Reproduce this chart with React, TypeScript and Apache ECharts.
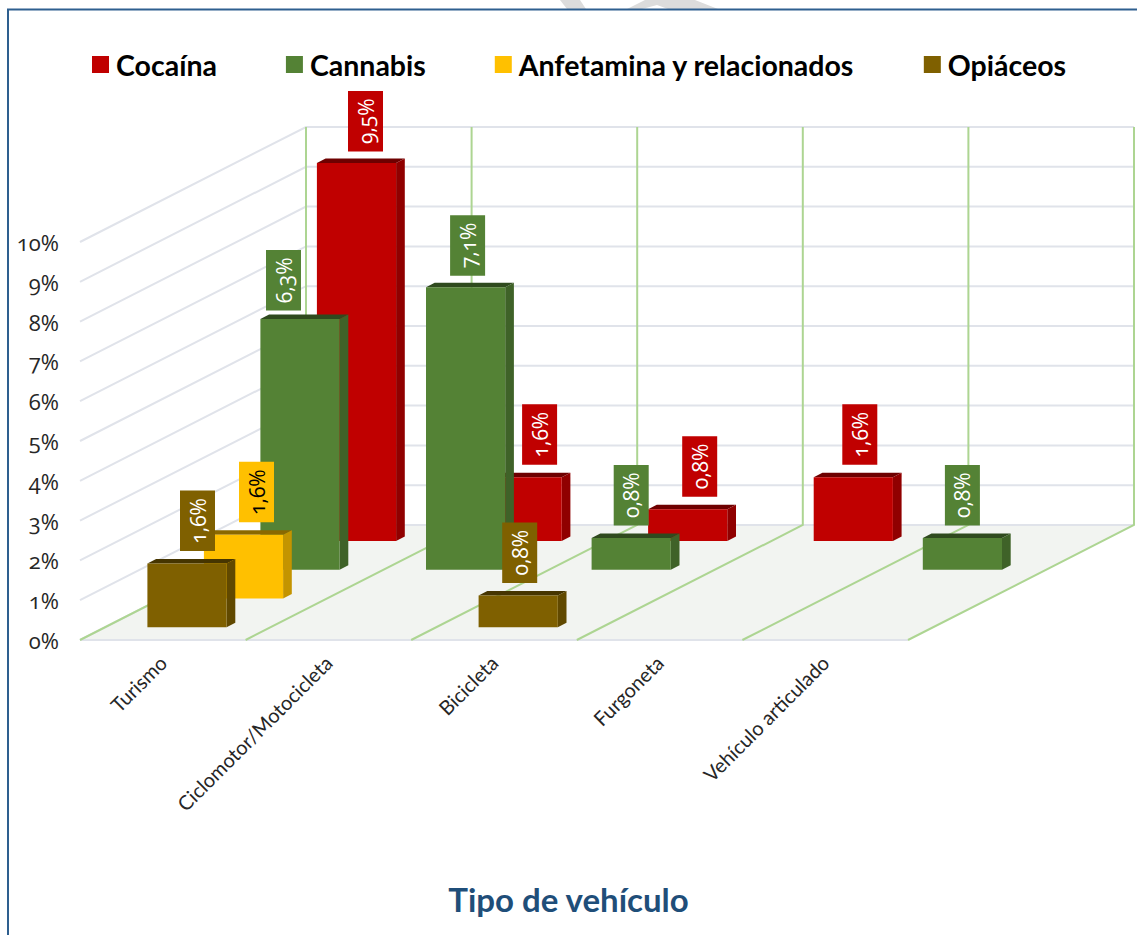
import React, { useEffect, useRef } from "react";
import * as echarts from "echarts";

const categories = ["Turismo", "Ciclomotor/Motocicleta", "Bicicleta", "Furgoneta", "Vehículo articulado"];
const yTicks = [0, 1, 2, 3, 4, 5, 6, 7, 8, 9, 10];

const seriesNames = ["Cocaína", "Cannabis", "Anfetamina y relacionados", "Opiáceos"];
const cocaina = [9.5, 1.6, 0.8, 1.6, null];
const cannabis = [6.3, 7.1, 0.8, null, 0.8];
const anfetamina = [1.6, null, null, null, null];
const opiaceos = [1.6, null, 0.8, null, null];
const seriesValues = [cocaina, cannabis, anfetamina, opiaceos];

// depth row of each series, 0 is the front row
const depthRows = [3, 2, 1, 0];

const frontColors = ["#c00000", "#548235", "#ffc000", "#7f6000"];
const topColors = ["#6e0000", "#2f4a1e", "#8a6800", "#463500"];
const sideColors = ["#900000", "#3f6228", "#c49400", "#614900"];
const labelTextColors = ["#ffffff", "#ffffff", "#000000", "#ffffff"];

// horizontal nudge of each data label from the centre of its bar
const labelNudgeCocaina = [9, 17.5, 12, 6.5, 0];
const labelNudgeCannabis = [-16.5, 2, 0, 0, 0];
const labelNudgeAnfetamina = [13, 0, 0, 0, 0];
const labelNudgeOpiaceos = [10.5, 0, 1.5, 0, 0];
const labelNudges = [labelNudgeCocaina, labelNudgeCannabis, labelNudgeAnfetamina, labelNudgeOpiaceos];

// vertical nudge of each data label
const labelLiftCocaina = [-1, 0, 0, 0, 0];
const labelLiftCannabis = [-4, -1, 0, 0, 0];
const labelLiftAnfetamina = [0, 0, 0, 0, 0];
const labelLiftOpiaceos = [0, 0, 0, 0, 0];
const labelLifts = [labelLiftCocaina, labelLiftCannabis, labelLiftAnfetamina, labelLiftOpiaceos];

const FONT = "Lato, 'Open Sans', sans-serif";
const NUM_FONT = "'Open Sans', Lato, sans-serif";
const DEPTH_X = 226;
const DEPTH_Y = -115;
const ROW_X = DEPTH_X / 4;
const ROW_Y = DEPTH_Y / 4;
const ROW_FRONT_X = 24.2;
const ROW_FRONT_Y = -12.7;
const BAR_W = 79.2;
const BAR_DX = 8.7;
const BAR_DY = -4.5;
const LABEL_W = 35;
const LABEL_H = 60.5;
const LABEL_H_NARROW = 58;
const LABEL_GAP = 12.5;

const formatValue = (v: number) => `${String(v).replace(".", ",")}%`;

function renderBack(_params: any, api: any) {
  const size = api.size([1, 0])[0];
  const x0 = api.coord([0, 0])[0] - size / 2;
  const x1 = x0 + size * categories.length;
  const yAt = (v: number) => api.coord([0, v])[1];
  const y0 = yAt(0);
  const children: any[] = [
    {
      type: "polygon",
      shape: {
        points: [
          [x0, y0],
          [x1, y0],
          [x1 + DEPTH_X, y0 + DEPTH_Y],
          [x0 + DEPTH_X, y0 + DEPTH_Y],
        ],
      },
      style: { fill: "#f2f4f1" },
    },
  ];
  const grey = { stroke: "#e0e3ea", lineWidth: 2 };
  const green = { stroke: "#add592", lineWidth: 2 };
  yTicks.forEach((t) => {
    const y = yAt(t);
    children.push({
      type: "polyline",
      shape: {
        points: [
          [x0, y],
          [x0 + DEPTH_X, y + DEPTH_Y],
          [x1 + DEPTH_X, y + DEPTH_Y],
        ],
      },
      style: { ...grey, fill: "none" },
    });
  });
  children.push({
    type: "line",
    shape: { x1: x0, y1: y0, x2: x1, y2: y0 },
    style: grey,
  });
  for (let i = 0; i <= categories.length; i++) {
    const x = x0 + i * size;
    children.push({
      type: "polyline",
      shape: {
        points: [
          [x, y0],
          [x + DEPTH_X, y0 + DEPTH_Y],
          [x + DEPTH_X, yAt(10) + DEPTH_Y],
        ],
      },
      style: { ...green, fill: "none" },
    });
  }
  return { type: "group", children };
}

function makeBarRenderer(s: number) {
  return (_params: any, api: any) => {
    const cat = api.value(0);
    const val = api.value(1);
    const top = api.coord([cat, val]);
    const base = api.coord([cat, 0]);
    const row = depthRows[s];
    const cx = top[0] + ROW_FRONT_X + row * ROW_X;
    const dy = ROW_FRONT_Y + row * ROW_Y;
    const l = cx - BAR_W / 2;
    const r = cx + BAR_W / 2;
    const t = top[1] + dy;
    const b = base[1] + dy;
    const text = formatValue(val);
    const lh = text.includes("1,") && !text.startsWith("1") ? LABEL_H_NARROW : LABEL_H;
    const lx = cx + labelNudges[s][cat];
    const ly = t - LABEL_GAP - lh - labelLifts[s][cat];
    return {
      type: "group",
      children: [
        {
          type: "polygon",
          shape: { points: [[l, t], [r, t], [r + BAR_DX, t + BAR_DY], [l + BAR_DX, t + BAR_DY]] },
          style: { fill: topColors[s] },
        },
        {
          type: "polygon",
          shape: { points: [[r, t], [r + BAR_DX, t + BAR_DY], [r + BAR_DX, b + BAR_DY], [r, b]] },
          style: { fill: sideColors[s] },
        },
        {
          type: "rect",
          shape: { x: l, y: t, width: BAR_W, height: b - t },
          style: { fill: frontColors[s] },
        },
        {
          type: "rect",
          shape: { x: lx - LABEL_W / 2, y: ly, width: LABEL_W, height: lh },
          style: { fill: frontColors[s] },
        },
        {
          type: "text",
          x: lx,
          y: ly + lh / 2,
          rotation: Math.PI / 2,
          style: {
            text,
            fill: labelTextColors[s],
            font: `21px ${NUM_FONT}`,
            align: "center",
            verticalAlign: "middle",
          },
        },
      ],
    };
  };
}

const barSeries = seriesNames.map((name, s) => ({
  type: "custom",
  name,
  z: 3 + s,
  coordinateSystem: "cartesian2d",
  encode: { x: 0, y: 1 },
  itemStyle: { color: frontColors[s] },
  renderItem: makeBarRenderer(s),
  data: seriesValues[s]
    .map((v, i) => (v === null ? null : [i, v]))
    .filter((d) => d !== null),
}));

const option: any = {
  animation: false,
  backgroundColor: "#ffffff",
  title: {
    text: "Tipo de vehículo",
    left: "center",
    top: 877,
    textStyle: { color: "#1f4e79", fontFamily: FONT, fontWeight: "bold", fontSize: 33 },
  },
  legend: {
    left: 87,
    top: 45,
    icon: "rect",
    itemWidth: 17,
    itemHeight: 17,
    itemGap: 69,
    data: seriesNames,
    selectedMode: false,
    textStyle: {
      color: "#000000",
      fontFamily: FONT,
      fontWeight: "bold",
      fontSize: 28.5,
      padding: [0, 0, 0, 2],
    },
  },
  grid: { left: 80, top: 242, width: 828, height: 398, containLabel: false },
  xAxis: {
    type: "category",
    data: categories,
    axisLine: { show: false },
    axisTick: { show: false },
    axisLabel: {
      rotate: 45,
      interval: 0,
      margin: 19,
      color: "#262626",
      fontFamily: FONT,
      fontSize: 20,
    },
  },
  yAxis: {
    type: "value",
    min: 0,
    max: 10,
    interval: 1,
    axisLine: { show: false },
    axisTick: { show: false },
    splitLine: { show: false },
    axisLabel: {
      margin: 21,
      formatter: "{value}%",
      color: "#262626",
      fontFamily: NUM_FONT,
      fontSize: 22,
    },
  },
  graphic: [
    {
      type: "polygon",
      silent: true,
      z: 0,
      shape: { points: [[560, 0], [580, 0], [586, 9], [567, 9]] },
      style: { fill: "#dcdcdc" },
    },
    {
      type: "polygon",
      silent: true,
      z: 0,
      shape: { points: [[645, 0], [627, 9], [642, 9], [657, 5], [668, 9], [718, 9], [695, 0]] },
      style: { fill: "#dcdcdc" },
    },
    {
      type: "polyline",
      silent: true,
      z: 100,
      shape: { points: [[8, 935], [8, 9.5], [1137, 9.5]] },
      style: { stroke: "#2e5f8f", lineWidth: 2, fill: "none" },
    },
  ],
  series: [
    {
      type: "custom",
      name: "fondo",
      z: 2,
      coordinateSystem: "cartesian2d",
      encode: { x: 0, y: 1 },
      silent: true,
      renderItem: renderBack,
      data: [[0, 0]],
    },
    ...barSeries,
  ],
};

export default function App() {
  const ref = useRef<HTMLDivElement>(null);
  useEffect(() => {
    const chart = echarts.init(ref.current, null, { renderer: "svg" });
    chart.setOption(option);
    return () => chart.dispose();
  }, []);
  return (
    <>
      <style>{"body{margin:0} svg text{font-variant-numeric:oldstyle-nums !important;font-feature-settings:'onum' 1 !important}"}</style>
      <div ref={ref} style={{ position: "absolute", left: 0, top: 0, width: 1137, height: 935 }} />
    </>
  );
}
